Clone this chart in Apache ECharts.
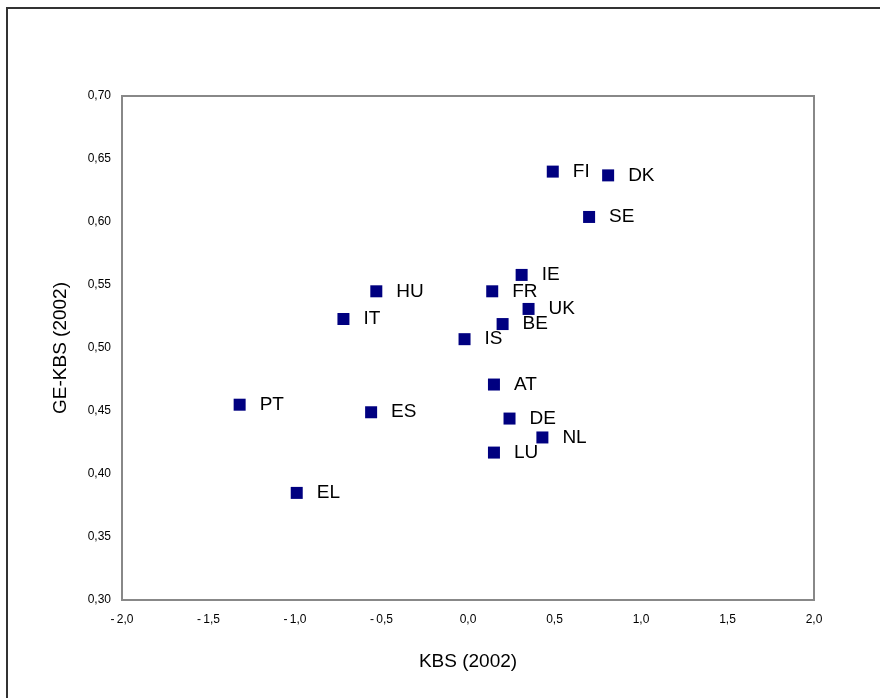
<!DOCTYPE html>
<html>
<head>
<meta charset="utf-8">
<script src="https://cdn.jsdelivr.net/npm/echarts@6/dist/echarts.min.js"></script>
<style>
  html, body { margin: 0; padding: 0; background: #fff; }
  #chart { width: 880px; height: 698px; }
</style>
</head>
<body>
<div id="chart"></div>
<script>
// 国家代码
const countries = ['FI', 'DK', 'SE', 'IE', 'HU', 'FR', 'UK', 'BE', 'IT', 'IS', 'AT', 'PT', 'ES', 'DE', 'NL', 'LU', 'EL']
// KBS (2002)
const kbs = [0.49, 0.81, 0.70, 0.31, -0.53, 0.14, 0.35, 0.20, -0.72, -0.02, 0.15, -1.32, -0.56, 0.24, 0.43, 0.15, -0.99]
// GE-KBS (2002)
const geKbs = [0.640, 0.637, 0.604, 0.558, 0.545, 0.545, 0.531, 0.519, 0.523, 0.507, 0.471, 0.455, 0.449, 0.444, 0.429, 0.417, 0.385]

const points = countries.map((name, i) => {
  return { name: name, value: [kbs[i], geKbs[i]] }
})

// 数字格式：逗号小数
function fmt(v, digits) {
  const s = Math.abs(v).toFixed(digits).replace('.', ',')
  return v < -1e-9 ? '-\u2009' + s : s
}

const chart = echarts.init(document.getElementById('chart'))
const option = {
  animation: false,
  textStyle: { fontFamily: 'Liberation Sans, Arial, sans-serif' },
  graphic: [
    {
      type: 'rect',
      shape: { x: 7, y: 8, width: 900, height: 720 },
      style: { fill: 'none', stroke: '#333', lineWidth: 2 },
      silent: true
    }
  ],
  grid: {
    left: 122,
    top: 96,
    right: 66,
    bottom: 98,
    show: true,
    borderColor: '#888',
    borderWidth: 2
  },
  xAxis: {
    type: 'value',
    min: -2,
    max: 2,
    interval: 0.5,
    name: 'KBS (2002)',
    nameLocation: 'middle',
    nameGap: 52,
    nameTextStyle: { fontSize: 19, color: '#000' },
    axisLine: { show: false },
    axisTick: { show: false },
    splitLine: { show: false },
    axisLabel: {
      color: '#000',
      fontSize: 12,
      margin: 14,
      formatter: (v) => fmt(v, 1)
    }
  },
  yAxis: {
    type: 'value',
    min: 0.30,
    max: 0.70,
    interval: 0.05,
    name: 'GE-KBS (2002)',
    nameLocation: 'middle',
    nameGap: 52,
    nameTextStyle: { fontSize: 19, color: '#000' },
    axisLine: { show: false },
    axisTick: { show: false },
    splitLine: { show: false },
    axisLabel: {
      color: '#000',
      fontSize: 12,
      margin: 11,
      formatter: (v) => fmt(v, 2)
    }
  },
  series: [
    {
      type: 'scatter',
      symbol: 'rect',
      symbolSize: 12,
      itemStyle: { color: '#000080', opacity: 1 },
      data: points,
      label: {
        show: true,
        position: 'right',
        distance: 14,
        formatter: '{b}',
        fontSize: 19,
        color: '#000',
        opacity: 1
      }
    }
  ]
}
chart.setOption(option)
window.addEventListener('resize', () => chart.resize(), false)
</script>
</body>
</html>
